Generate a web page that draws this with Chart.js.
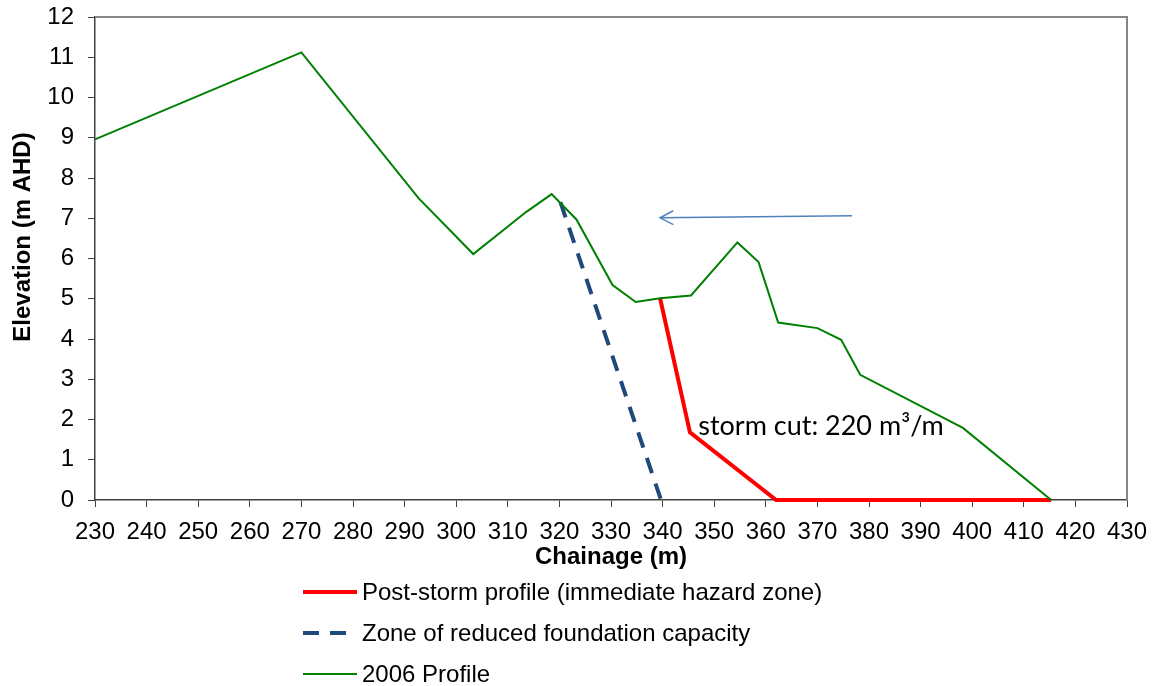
<!DOCTYPE html>
<html>
<head>
<meta charset="utf-8">
<script src="https://cdn.jsdelivr.net/npm/chart.js@4/dist/chart.umd.min.js"></script>
<style>
  html, body { margin: 0; padding: 0; background: #ffffff; }
  #wrap { width: 1162px; height: 686px; position: relative; }
</style>
</head>
<body>
<div id="wrap"><canvas id="c"></canvas></div>
<script>
// ---- Data ----
const seriesNames = [
  'Post-storm profile (immediate hazard zone)',
  'Zone of reduced foundation capacity',
  '2006 Profile'
];
const postStormChainage = [339.5, 345.3, 362.0, 415.3];
const postStormElevation = [5.02, 1.68, 0, 0];

const reducedZoneChainage = [320.2, 339.7];
const reducedZoneElevation = [7.40, 0];

const profile2006Chainage = [230, 270, 292.7, 303.3, 313.6, 318.5, 323.3, 330.3, 334.8, 339.5, 345.5, 354.5, 358.6, 362.4, 370.0, 374.6, 378.3, 398.2, 415.3];
const profile2006Elevation = [8.96, 11.12, 7.50, 6.11, 7.16, 7.60, 6.97, 5.34, 4.92, 5.01, 5.08, 6.40, 5.91, 4.41, 4.27, 3.98, 3.11, 1.79, 0];

const xTicksMin = 230, xTicksMax = 430, xStep = 10;
const yTicksMin = 0, yTicksMax = 12, yStep = 1;

const xTitle = 'Chainage (m)';
const yTitle = 'Elevation (m AHD)';
const annotationText = 'storm cut: 220 m\u00B3/m';
const annotationAt = [346.9, 1.61];        // chainage, elevation (text anchor)
const arrowFrom = [376.7, 7.06];           // chainage, elevation
const arrowTo = [339.5, 7.01];

const pts = (xs, ys) => xs.map((x, i) => ({ x: x, y: ys[i] }));

const FONT = "'Liberation Sans', Arial, sans-serif";

const extrasPlugin = {
  id: 'extras',
  afterDatasetsDraw(chart) {
    const { ctx, chartArea, scales } = chart;
    const xs = scales.x, ys = scales.y;
    ctx.save();
    // top and right frame
    ctx.strokeStyle = '#868686';
    ctx.lineWidth = 2;
    ctx.beginPath();
    ctx.moveTo(chartArea.left, chartArea.top);
    ctx.lineTo(chartArea.right, chartArea.top);
    ctx.lineTo(chartArea.right, chartArea.bottom);
    ctx.stroke();

    // arrow
    const x1 = xs.getPixelForValue(arrowFrom[0]), y1 = ys.getPixelForValue(arrowFrom[1]);
    const x2 = xs.getPixelForValue(arrowTo[0]), y2 = ys.getPixelForValue(arrowTo[1]);
    ctx.strokeStyle = '#4F81BD';
    ctx.lineWidth = 1.5;
    ctx.beginPath();
    ctx.moveTo(x1, y1);
    ctx.lineTo(x2, y2);
    ctx.stroke();
    const ang = Math.atan2(y2 - y1, x2 - x1);
    const hl = 15, ha = 0.48;
    ctx.beginPath();
    ctx.moveTo(x2 - hl * Math.cos(ang - ha), y2 - hl * Math.sin(ang - ha));
    ctx.lineTo(x2, y2);
    ctx.lineTo(x2 - hl * Math.cos(ang + ha), y2 - hl * Math.sin(ang + ha));
    ctx.stroke();

    // annotation
    ctx.fillStyle = '#000000';
    ctx.font = "27px Lato, 'Open Sans', sans-serif";
    ctx.textAlign = 'left';
    ctx.textBaseline = 'alphabetic';
    ctx.fillText(annotationText, xs.getPixelForValue(annotationAt[0]), ys.getPixelForValue(annotationAt[1]));
    ctx.restore();
  },
  afterDraw(chart) {
    const { ctx } = chart;
    ctx.save();
    // y-axis title (drawn slightly above the axis centre, as in the reference)
    ctx.fillStyle = '#000000';
    ctx.font = 'bold 24px ' + FONT;
    ctx.textAlign = 'center';
    ctx.textBaseline = 'middle';
    ctx.translate(23, 237);
    ctx.rotate(-Math.PI / 2);
    ctx.fillText(yTitle, 0, 0);
    ctx.restore();

    // vertical legend below the axis title
    const rowsY = [592, 633, 674];
    ctx.save();
    chart.data.datasets.forEach((ds, i) => {
      const y = rowsY[i];
      ctx.strokeStyle = ds.borderColor;
      ctx.lineWidth = ds.borderWidth;
      ctx.setLineDash(ds.borderDash || []);
      ctx.lineCap = 'butt';
      ctx.beginPath();
      ctx.moveTo(303, y);
      ctx.lineTo(357, y);
      ctx.stroke();
      ctx.setLineDash([]);
      ctx.fillStyle = '#000000';
      ctx.font = '24px ' + FONT;
      ctx.textAlign = 'left';
      ctx.textBaseline = 'middle';
      ctx.fillText(ds.label, 362, y + 1);
    });
    ctx.restore();
  }
};

new Chart(document.getElementById('c'), {
  type: 'line',
  data: {
    datasets: [
      {
        label: seriesNames[0],
        data: pts(postStormChainage, postStormElevation),
        borderColor: '#FF0000',
        borderWidth: 4,
        pointRadius: 0,
        tension: 0,
        clip: false,
        order: 2
      },
      {
        label: seriesNames[1],
        data: pts(reducedZoneChainage, reducedZoneElevation),
        borderColor: '#1F497D',
        borderWidth: 4,
        borderDash: [16, 11],
        borderCapStyle: 'butt',
        pointRadius: 0,
        tension: 0,
        clip: false,
        order: 1
      },
      {
        label: seriesNames[2],
        data: pts(profile2006Chainage, profile2006Elevation),
        borderColor: '#008000',
        borderWidth: 2,
        pointRadius: 0,
        tension: 0,
        clip: false,
        order: 0
      }
    ]
  },
  options: {
    responsive: true,
    maintainAspectRatio: false,
    animation: false,
    events: [],
    layout: { padding: { top: 17, right: 35, left: 0, bottom: 0 } },
    plugins: {
      legend: { display: false },
      tooltip: { enabled: false }
    },
    scales: {
      x: {
        type: 'linear',
        min: xTicksMin,
        max: xTicksMax,
        afterFit(scale) { scale.height = 186; },
        ticks: {
          stepSize: xStep,
          color: '#000000',
          font: { family: FONT, size: 24 },
          padding: 11,
          maxRotation: 0,
          autoSkip: false
        },
        grid: { drawOnChartArea: false, drawTicks: true, tickLength: 7, color: '#404040', lineWidth: 1 },
        border: { display: true, color: '#404040', width: 1.5 },
        title: {
          display: true,
          text: xTitle,
          color: '#000000',
          font: { family: FONT, size: 24, weight: 'bold' },
          padding: { top: 0, bottom: 114 }
        }
      },
      y: {
        type: 'linear',
        min: yTicksMin,
        max: yTicksMax,
        afterFit(scale) { scale.width = 95; scale.paddingTop = 0; scale.paddingBottom = 0; },
        ticks: {
          stepSize: yStep,
          color: '#000000',
          font: { family: FONT, size: 24 },
          padding: 14
        },
        grid: { drawOnChartArea: false, drawTicks: true, tickLength: 7, color: '#404040', lineWidth: 1 },
        border: { display: true, color: '#404040', width: 1.5 },
        title: { display: false }
      }
    }
  },
  plugins: [extrasPlugin]
});
</script>
</body>
</html>
